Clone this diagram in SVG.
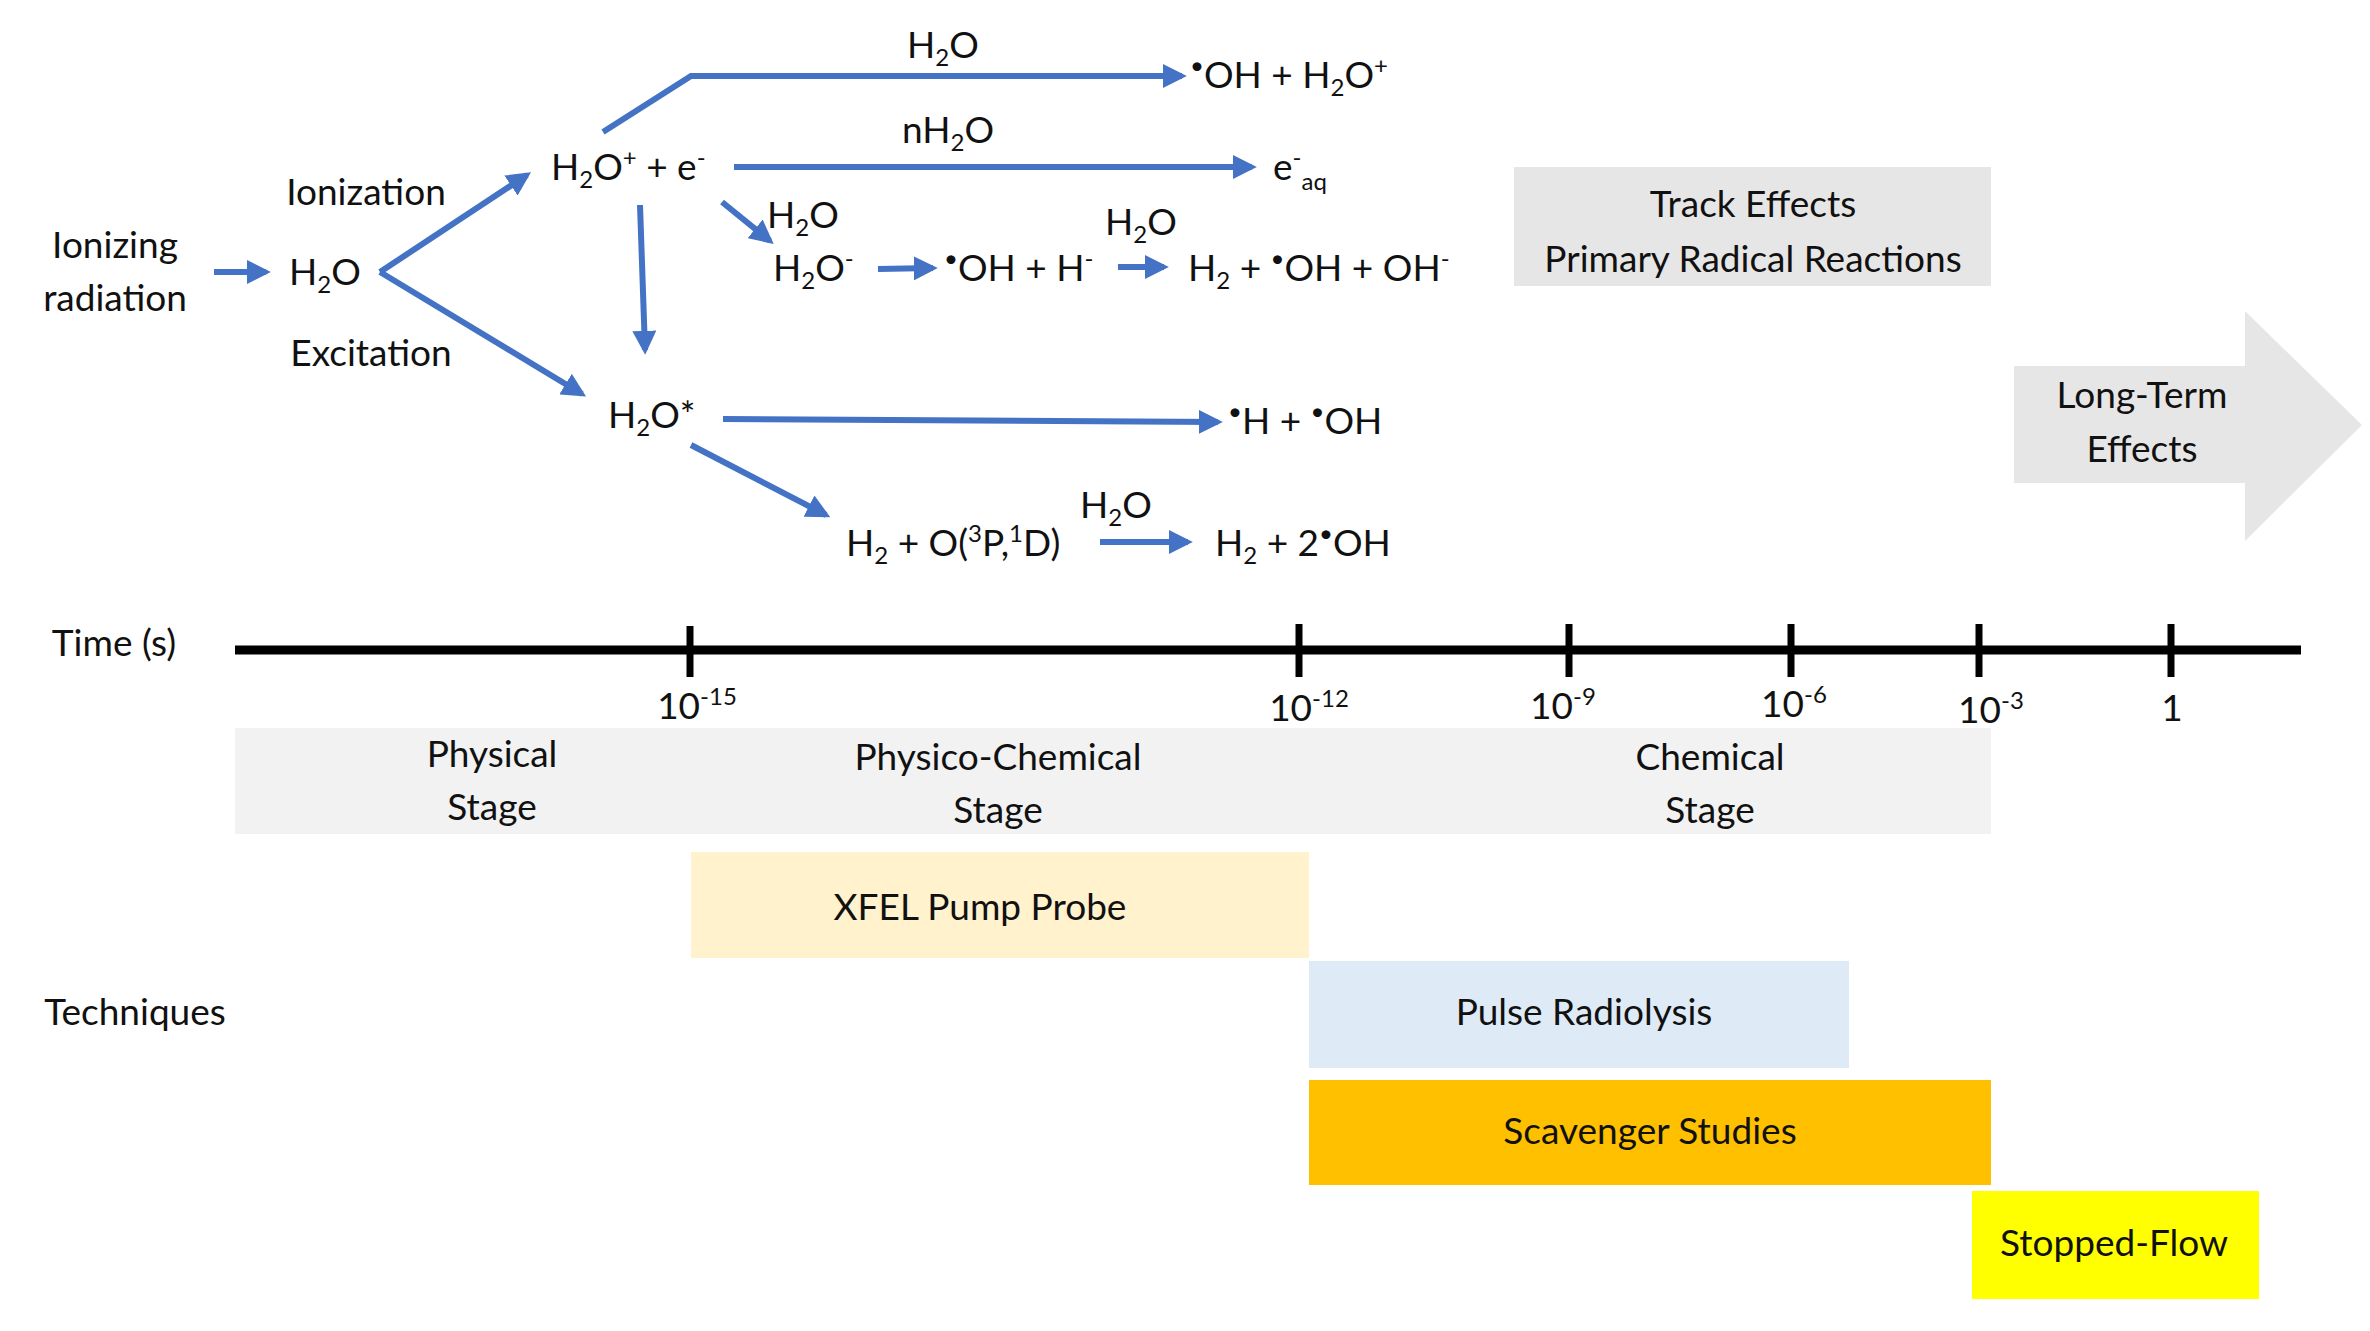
<svg xmlns="http://www.w3.org/2000/svg" width="2370" height="1331" viewBox="0 0 2370 1331">
<style>
text{font-family:Lato,"Open Sans","Liberation Sans",sans-serif;font-size:37px;fill:#111}
.c{text-anchor:middle}
.b{font-size:24px}
.ln{stroke:#4472c4;stroke-width:6;fill:none}
.ar{stroke:#4472c4;stroke-width:6;fill:none;marker-end:url(#ah)}
</style>
<defs><marker id="ah" viewBox="0 0 10 10" refX="8" refY="5" markerWidth="4" markerHeight="4" orient="auto" markerUnits="strokeWidth"><path d="M0,0L10,5L0,10z" fill="#4472c4"/></marker></defs>
<g id="boxes">
<rect x="1514" y="167" width="477" height="119" fill="#e7e6e6"/>
<path d="M2014,366H2245V311L2362,425L2245,541V483H2014z" fill="#e7e6e6"/>
<rect x="235" y="728" width="1756" height="106" fill="#f2f2f2"/>
<rect x="691" y="852" width="618" height="106" fill="#fff2cc"/>
<rect x="1309" y="961" width="540" height="107" fill="#deebf7"/>
<rect x="1309" y="1080" width="682" height="105" fill="#ffc000"/>
<rect x="1972" y="1191" width="287" height="108" fill="#ffff00"/>
</g>
<g id="connectors">
<line class="ar" x1="214" y1="272" x2="266" y2="272"/>
<line class="ar" x1="380" y1="272" x2="527" y2="175"/>
<line class="ar" x1="380" y1="272" x2="582" y2="394"/>
<line class="ar" x1="640" y1="205" x2="645" y2="350"/>
<polyline class="ar" points="603,132 691,76 1182,76"/>
<line class="ar" x1="734" y1="167" x2="1252" y2="167"/>
<line class="ar" x1="722" y1="202" x2="770" y2="241"/>
<line class="ar" x1="878" y1="269" x2="933" y2="268"/>
<line class="ar" x1="1118" y1="267" x2="1164" y2="267"/>
<line class="ar" x1="723" y1="419" x2="1218" y2="422"/>
<line class="ar" x1="691" y1="445" x2="826" y2="515"/>
<line class="ar" x1="1100" y1="542" x2="1188" y2="542"/>
</g>
<g id="timeline">
<line x1="235" y1="650" x2="2301" y2="650" stroke="#000" stroke-width="9"/>
<g stroke="#000" stroke-width="7">
<line x1="690" y1="626" x2="690" y2="677"/><line x1="1299" y1="624" x2="1299" y2="677"/>
<line x1="1569" y1="624" x2="1569" y2="677"/><line x1="1791" y1="624" x2="1791" y2="677"/>
<line x1="1979" y1="624" x2="1979" y2="677"/><line x1="2171" y1="624" x2="2171" y2="677"/>
</g>
</g>
<g id="labels">
<text class="c" x="115" y="258">Ionizing</text>
<text class="c" x="115" y="311">radiation</text>
<text x="289" y="285">H<tspan class="b" dy="8">2</tspan><tspan dy="-8">O</tspan></text>
<text class="c" x="366" y="205">Ionization</text>
<text class="c" x="371" y="366">Excitation</text>
<text x="551" y="180">H<tspan class="b" dy="8">2</tspan><tspan dy="-8">O</tspan><tspan class="b" dy="-14">+</tspan><tspan dy="14"> + e</tspan><tspan class="b" dy="-14">-</tspan></text>
<text class="c" x="943" y="58">H<tspan class="b" dy="8">2</tspan><tspan dy="-8">O</tspan></text>
<text x="1190" y="88"><tspan class="b" dy="-14">•</tspan><tspan dy="14">OH + H</tspan><tspan class="b" dy="8">2</tspan><tspan dy="-8">O</tspan><tspan class="b" dy="-14">+</tspan></text>
<text class="c" x="948" y="143">nH<tspan class="b" dy="8">2</tspan><tspan dy="-8">O</tspan></text>
<text x="1273" y="180">e<tspan class="b" dy="-14">-</tspan><tspan class="b" dy="24">aq</tspan></text>
<text x="767" y="228">H<tspan class="b" dy="8">2</tspan><tspan dy="-8">O</tspan></text>
<text x="773" y="281">H<tspan class="b" dy="8">2</tspan><tspan dy="-8">O</tspan><tspan class="b" dy="-14">-</tspan></text>
<text x="944" y="281"><tspan class="b" dy="-14">•</tspan><tspan dy="14">OH + H</tspan><tspan class="b" dy="-14">-</tspan></text>
<text class="c" x="1141" y="235">H<tspan class="b" dy="8">2</tspan><tspan dy="-8">O</tspan></text>
<text x="1188" y="281">H<tspan class="b" dy="8">2</tspan><tspan dy="-8"> + </tspan><tspan class="b" dy="-14">•</tspan><tspan dy="14">OH + OH</tspan><tspan class="b" dy="-14">-</tspan></text>
<text x="608" y="428">H<tspan class="b" dy="8">2</tspan><tspan dy="-8">O*</tspan></text>
<text x="1228" y="434"><tspan class="b" dy="-14">•</tspan><tspan dy="14">H + </tspan><tspan class="b" dy="-14">•</tspan><tspan dy="14">OH</tspan></text>
<text x="846" y="556">H<tspan class="b" dy="8">2</tspan><tspan dy="-8"> + O(</tspan><tspan class="b" dy="-14">3</tspan><tspan dy="14">P,</tspan><tspan class="b" dy="-14">1</tspan><tspan dy="14">D)</tspan></text>
<text class="c" x="1116" y="518">H<tspan class="b" dy="8">2</tspan><tspan dy="-8">O</tspan></text>
<text x="1215" y="556">H<tspan class="b" dy="8">2</tspan><tspan dy="-8"> + 2</tspan><tspan class="b" dy="-14">•</tspan><tspan dy="14">OH</tspan></text>
<text class="c" x="1753" y="217">Track Effects</text>
<text class="c" x="1753" y="272">Primary Radical Reactions</text>
<text class="c" x="2142" y="408">Long-Term</text>
<text class="c" x="2142" y="462">Effects</text>
<text class="c" x="114" y="656">Time (s)</text>
<text class="c" x="697" y="719">10<tspan class="b" dy="-14">-15</tspan></text>
<text class="c" x="1309" y="721">10<tspan class="b" dy="-14">-12</tspan></text>
<text class="c" x="1563" y="719">10<tspan class="b" dy="-14">-9</tspan></text>
<text class="c" x="1794" y="717">10<tspan class="b" dy="-14">-6</tspan></text>
<text class="c" x="1991" y="723">10<tspan class="b" dy="-14">-3</tspan></text>
<text class="c" x="2172" y="721">1</text>
<text class="c" x="492" y="767">Physical</text>
<text class="c" x="492" y="820">Stage</text>
<text class="c" x="998" y="770">Physico-Chemical</text>
<text class="c" x="998" y="823">Stage</text>
<text class="c" x="1710" y="770">Chemical</text>
<text class="c" x="1710" y="823">Stage</text>
<text class="c" x="980" y="920">XFEL Pump Probe</text>
<text class="c" x="135" y="1025">Techniques</text>
<text class="c" x="1584" y="1025">Pulse Radiolysis</text>
<text class="c" x="1650" y="1144">Scavenger Studies</text>
<text class="c" x="2114" y="1256">Stopped-Flow</text>
</g>
</svg>
